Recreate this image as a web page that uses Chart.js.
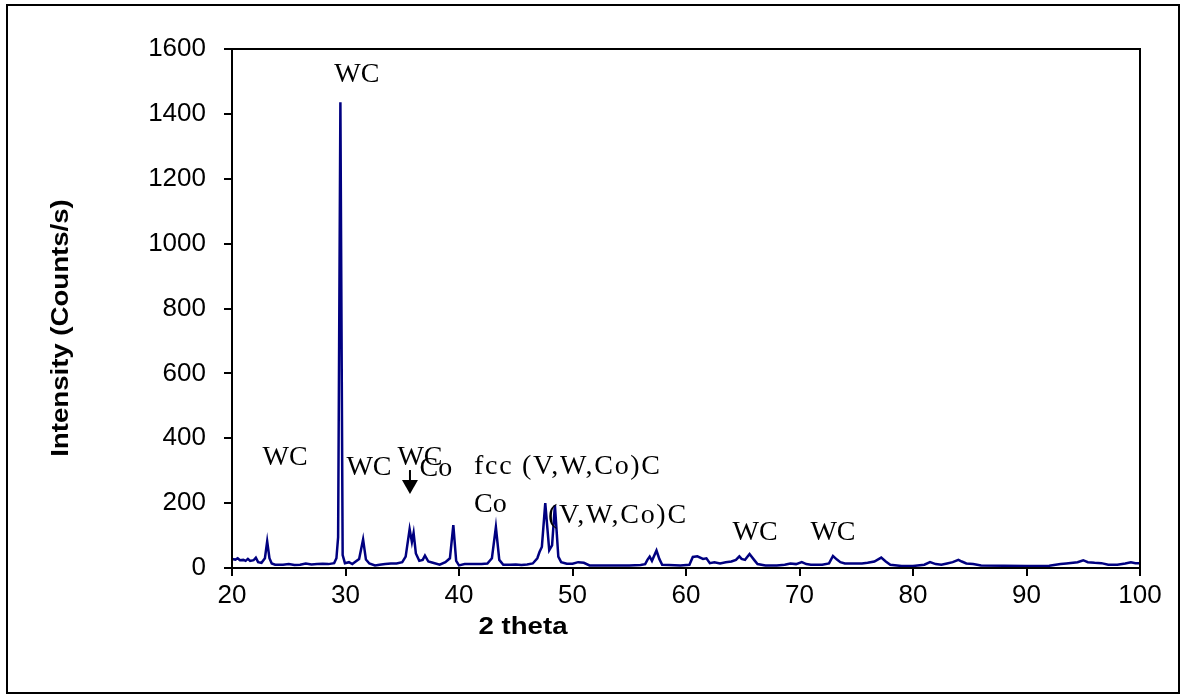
<!DOCTYPE html>
<html>
<head>
<meta charset="utf-8">
<script src="https://cdn.jsdelivr.net/npm/chart.js@4/dist/chart.umd.min.js"></script>
<style>
  body { margin: 0; background: #fff; }
  #wrap { position: relative; width: 1184px; height: 700px; }
  #frame { position: absolute; left: 6px; top: 4px; width: 1170px; height: 686px; border: 2px solid #000; pointer-events: none; }
  canvas { position: absolute; left: 0; top: 0; }
</style>
</head>
<body>
<div id="wrap">
  <canvas id="xrd" width="1184" height="700"></canvas>
  <div id="frame"></div>
</div>
<script>
const twoTheta = [
  20.0, 20.3, 20.5, 20.7, 21.0, 21.2, 21.4, 21.6, 21.9, 22.1, 22.3, 22.6, 22.9, 23.1, 23.3, 23.5, 23.8,
  24.5, 25.0, 25.5, 26.0, 26.5, 27.0, 27.5, 28.0, 28.5, 29.0, 29.2, 29.35, 29.55, 29.75, 29.95,
  30.3, 30.6, 30.9, 31.2, 31.55, 31.8, 32.1, 32.6, 33.0, 33.5, 34.0, 34.5, 35.0, 35.3, 35.65, 35.85,
  36.0, 36.2, 36.5, 36.8, 37.0, 37.3, 37.7, 38.3, 38.8, 39.2, 39.5, 39.75, 40.0, 40.5, 41.0, 41.5,
  42.0, 42.5, 42.9, 43.25, 43.55, 43.9, 44.5, 45.0, 45.5, 46.0, 46.5, 46.9, 47.1, 47.3, 47.6, 47.95,
  48.2, 48.45, 48.75, 49.0, 49.5, 50.0, 50.5, 51.0, 51.5, 52.0, 53.0, 54.0, 55.0, 56.0, 56.4, 56.6,
  56.8, 57.0, 57.4, 57.65, 57.9, 58.5, 59.5, 60.3, 60.6, 61.0, 61.5, 61.8, 62.1, 62.5, 63.0, 63.5,
  64.0, 64.4, 64.7, 64.9, 65.2, 65.6, 66.0, 66.3, 67.0, 68.0, 68.7, 69.2, 69.7, 70.2, 70.6, 71.0,
  72.0, 72.6, 72.95, 73.3, 73.6, 74.0, 74.6, 75.5, 76.0, 76.6, 77.2, 77.6, 78.0, 79.0, 80.0, 81.0,
  81.5, 82.0, 82.5, 83.0, 83.5, 84.0, 84.3, 84.7, 85.3, 86.0, 88.0, 90.0, 92.0, 93.0, 93.5, 94.5,
  95.0, 95.4, 96.0, 96.6, 97.2, 98.0, 98.7, 99.2, 99.6, 100.0
];
const intensity = [
  28, 26, 30, 24, 25, 22, 28, 22, 24, 32, 18, 16, 30, 82, 30, 14, 10,
  10, 12, 9, 10, 14, 11, 12, 13, 12, 15, 30, 95, 1436, 40, 15,
  18, 12, 20, 28, 88, 26, 14, 8, 10, 12, 14, 14, 18, 35, 120, 80,
  108, 45, 22, 25, 38, 20, 16, 10, 18, 30, 132, 22, 8, 12, 12, 12,
  12, 14, 30, 126, 25, 10, 10, 11, 9, 11, 14, 30, 50, 65, 200, 55,
  70, 194, 35, 18, 13, 13, 18, 16, 8, 8, 8, 8, 8, 9, 12, 25,
  35, 22, 54, 28, 10, 9, 8, 10, 34, 36, 28, 30, 15, 18, 14, 18,
  20, 25, 36, 28, 25, 43, 25, 12, 8, 8, 10, 14, 12, 18, 12, 10,
  10, 14, 37, 26, 18, 14, 14, 14, 16, 20, 32, 20, 10, 6, 6, 10,
  18, 12, 10, 14, 18, 25, 20, 14, 12, 8, 7, 6, 7, 12, 14, 18,
  24, 18, 16, 15, 10, 10, 14, 18, 15, 15
];

const xTicks = [20, 30, 40, 50, 60, 70, 80, 90, 100];
const yTicks = [0, 200, 400, 600, 800, 1000, 1200, 1400, 1600];

// phase labels placed in data units
const phaseText = ['WC', 'WC', 'WC', 'WC', 'Co', 'fcc (V,W,Co)C', 'Co', '(V,W,Co)C', 'WC', 'WC'];
const phaseX = [31.0, 24.67, 32.07, 36.56, 37.97, 41.32, 41.32, 47.84, 66.08, 72.95];
const phaseY = [1520, 339, 308, 339, 305, 311, 194, 160, 108, 108];
const phaseAlign = ['center', 'center', 'center', 'center', 'center', 'left', 'left', 'left', 'center', 'center'];

// arrow pointing to the WC peak near 35.7
const arrowX = 35.68;
const arrowFrom = 302;
const arrowTo = 228;

const decorations = {
  id: 'decorations',
  afterDraw(chart) {
    const { ctx, chartArea: a, scales: { x, y } } = chart;
    ctx.save();
    // box round the plot area
    ctx.strokeStyle = '#000';
    ctx.lineWidth = 2;
    ctx.strokeRect(a.left, a.top, a.right - a.left, a.bottom - a.top);

    // phase labels
    ctx.fillStyle = '#000';
    ctx.font = '28px "Liberation Serif", "Times New Roman", serif';
    ctx.textBaseline = 'middle';
    phaseText.forEach((t, i) => {
      ctx.textAlign = phaseAlign[i];
      ctx.letterSpacing = t.length > 4 ? '1.7px' : '0px';
      ctx.fillText(t, x.getPixelForValue(phaseX[i]), y.getPixelForValue(phaseY[i]));
    });
    ctx.letterSpacing = '0px';

    // arrow
    const ax = x.getPixelForValue(arrowX);
    const y0 = y.getPixelForValue(arrowFrom);
    const y1 = y.getPixelForValue(arrowTo);
    ctx.beginPath();
    ctx.moveTo(ax, y0);
    ctx.lineTo(ax, y1 - 12);
    ctx.stroke();
    ctx.beginPath();
    ctx.moveTo(ax - 8, y1 - 14);
    ctx.lineTo(ax + 8, y1 - 14);
    ctx.lineTo(ax, y1);
    ctx.closePath();
    ctx.fill();

    // axis titles (slightly wide, like the original)
    ctx.font = 'bold 23px "Liberation Sans", Arial, sans-serif';
    ctx.textAlign = 'center';
    ctx.save();
    ctx.translate(523, 628);
    ctx.scale(1.2, 1);
    ctx.fillText('2 theta', 0, 0);
    ctx.restore();
    ctx.save();
    ctx.translate(62, 328);
    ctx.rotate(-Math.PI / 2);
    ctx.scale(1.2, 1);
    ctx.fillText('Intensity (Counts/s)', 0, 0);
    ctx.restore();
    ctx.restore();
  }
};

const tickFont = { family: '"Liberation Sans", Arial, sans-serif', size: 26 };

new Chart(document.getElementById('xrd'), {
  type: 'line',
  data: {
    datasets: [{
      data: twoTheta.map((v, i) => ({ x: v, y: intensity[i] })),
      borderColor: '#000080',
      borderWidth: 2.5,
      pointRadius: 0,
      fill: false,
      tension: 0
    }]
  },
  options: {
    responsive: false,
    animation: false,
    layout: { padding: { left: 0, top: 49, right: 44, bottom: 0 } },
    plugins: { legend: { display: false }, tooltip: { enabled: false } },
    scales: {
      x: {
        type: 'linear',
        min: 20,
        max: 100,
        afterBuildTicks: s => { s.ticks = xTicks.map(v => ({ value: v })); },
        afterFit: s => { s.height = 132; },
        grid: { drawOnChartArea: false, drawTicks: true, tickLength: 8, color: '#000', lineWidth: 2 },
        border: { display: true, color: '#000', width: 2 },
        ticks: { color: '#000', font: tickFont, padding: 4, maxRotation: 0, callback: v => String(v) }
      },
      y: {
        min: 0,
        max: 1600,
        afterBuildTicks: s => { s.ticks = yTicks.map(v => ({ value: v })); },
        afterFit: s => { s.width = 232; },
        grid: { drawOnChartArea: false, drawTicks: true, tickLength: 8, color: '#000', lineWidth: 2 },
        border: { display: true, color: '#000', width: 2 },
        ticks: { color: '#000', font: tickFont, padding: 18, callback: v => String(v) }
      }
    }
  },
  plugins: [decorations]
});
</script>
</body>
</html>
